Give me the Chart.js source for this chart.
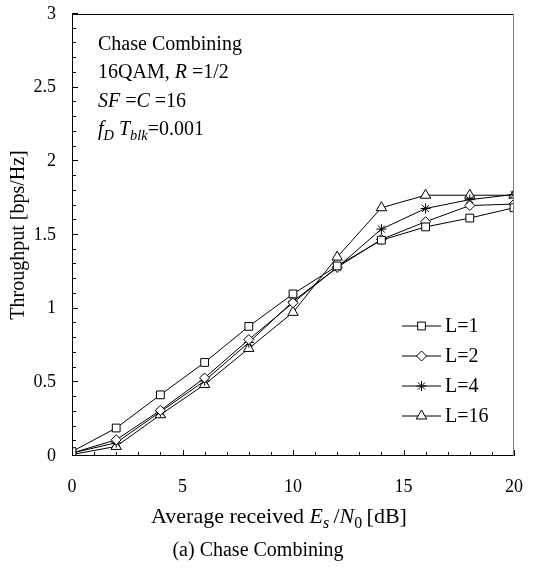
<!DOCTYPE html>
<html>
<head>
<meta charset="utf-8">
<script src="https://cdn.jsdelivr.net/npm/chart.js@4.4.1/dist/chart.umd.min.js"></script>
<style>
  html, body { margin: 0; padding: 0; background: #fff; }
  canvas { display: block; }
</style>
</head>
<body>
<canvas id="myChart" width="533" height="572"></canvas>
<script>
// valores
const snr = [0, 2, 4, 6, 8, 10, 12, 14, 16, 18, 20];
const l1 = [0.03, 0.19, 0.415, 0.635, 0.88, 1.10, 1.29, 1.465, 1.555, 1.615, 1.685];
const l2 = [0.02, 0.11, 0.31, 0.53, 0.79, 1.04, 1.28, 1.47, 1.59, 1.70, 1.71];
const l4 = [0.02, 0.09, 0.30, 0.51, 0.77, 1.05, 1.28, 1.54, 1.68, 1.74, 1.775];
const l16 = [0.01, 0.065, 0.28, 0.485, 0.73, 0.975, 1.35, 1.685, 1.77, 1.77, 1.77];
const seriesNames = ["L=1", "L=2", "L=4", "L=16"];
const markers = ["rect", "rectRot", "star", "triangle"];
const markerSizes = [5.5, 5, 5, 6];

const SERIF = '"Liberation Serif", "Times New Roman", serif';

// texto com italico / subscrito
function richText(ctx, parts, x, y, size, align) {
  let total = 0;
  const widths = parts.map((p) => {
    const s = p[2] ? size * 0.72 : size;
    ctx.font = (p[1] ? "italic " : "") + s + "px " + SERIF;
    const w = ctx.measureText(p[0]).width;
    total += w;
    return w;
  });
  let cx = align === "center" ? x - total / 2 : x;
  parts.forEach((p, i) => {
    const s = p[2] ? size * 0.72 : size;
    ctx.font = (p[1] ? "italic " : "") + s + "px " + SERIF;
    ctx.fillText(p[0], cx, p[2] ? y + size * 0.22 : y);
    cx += widths[i];
  });
}

const notes = [
  [["Chase Combining"]],
  [["16QAM, "], ["R", true], [" =1/2"]],
  [["SF", true], [" ="], ["C", true], [" =16"]],
  [["f", true], ["D", true, true], [" "], ["T", true], ["blk", true, true], ["=0.001"]],
];

const framePlugin = {
  id: "frame",
  afterDraw(chart) {
    const ctx = chart.ctx;
    const a = chart.chartArea;
    const xs = chart.scales.x;
    const ys = chart.scales.y;
    ctx.save();
    ctx.strokeStyle = "#000";
    ctx.lineWidth = 1;
    // caixa
    ctx.beginPath();
    ctx.moveTo(a.left + 0.5, a.top + 0.5);
    ctx.lineTo(a.right - 0.5, a.top + 0.5);
    ctx.moveTo(a.left + 0.5, a.top);
    ctx.lineTo(a.left + 0.5, a.bottom - 0.5);
    ctx.lineTo(a.right, a.bottom - 0.5);
    ctx.stroke();
    ctx.strokeStyle = "#808080";
    ctx.beginPath();
    ctx.moveTo(a.right - 0.5, a.top);
    ctx.lineTo(a.right - 0.5, a.bottom);
    ctx.stroke();
    // marcas para dentro
    ctx.strokeStyle = "#000";
    ctx.beginPath();
    for (let i = 0; i <= 30; i++) {
      const py = Math.round(ys.getPixelForValue(i / 10)) - 0.5;
      const len = i % 5 === 0 ? 6 : 4;
      ctx.moveTo(a.left, py);
      ctx.lineTo(a.left + len, py);
    }
    for (let i = 0; i <= 20; i++) {
      const px = Math.round(xs.getPixelForValue(i)) + 0.5;
      const len = i % 5 === 0 ? 6 : 4;
      ctx.moveTo(px, a.bottom);
      ctx.lineTo(px, a.bottom - len);
    }
    ctx.stroke();

    // anotacoes
    ctx.fillStyle = "#000";
    ctx.textBaseline = "alphabetic";
    ctx.textAlign = "left";
    notes.forEach((line, i) => {
      richText(ctx, line, a.left + 26, 50 + i * 28.4, 20, "left");
    });

    // titulo do eixo x e legenda da figura
    richText(ctx, [["Average received "], ["E", true], ["s", true, true], ["\u2009/"], ["N", true], ["0", false, true], ["\u2009[dB]"]], 279, 523, 22, "center");
    richText(ctx, [["(a) Chase Combining"]], 258, 556, 20, "center");

    // legenda
    chart.data.datasets.forEach((ds, i) => {
      const y = a.bottom - 130 + i * 30;
      const x0 = a.right - 112;
      ctx.strokeStyle = "#000";
      ctx.beginPath();
      ctx.moveTo(x0, y);
      ctx.lineTo(x0 + 39, y);
      ctx.stroke();
      ctx.fillStyle = "#fff";
      Chart.helpers.drawPoint(ctx, {
        pointStyle: ds.pointStyle,
        radius: ds.pointRadius,
        borderWidth: 1,
      }, x0 + 19.5, y);
      ctx.fillStyle = "#000";
      ctx.font = "20px " + SERIF;
      ctx.textBaseline = "middle";
      ctx.fillText(ds.label, x0 + 43, y + 1);
      ctx.textBaseline = "alphabetic";
    });
    ctx.restore();
  },
};

const allSeries = [l1, l2, l4, l16];

const ctx = document.getElementById("myChart");

new Chart(ctx, {
  type: "line",
  data: {
    datasets: allSeries.map((vals, i) => ({
      label: seriesNames[i],
      data: snr.map((x, j) => ({ x: x, y: vals[j] })),
      borderColor: "#000",
      borderWidth: 1,
      backgroundColor: "#fff",
      pointStyle: markers[i],
      pointRadius: markerSizes[i],
      pointBorderColor: "#000",
      pointBackgroundColor: "#fff",
      pointBorderWidth: 1,
      tension: 0,
    })),
  },
  options: {
    responsive: false,
    animation: false,
    devicePixelRatio: 1,
    layout: { padding: { top: 14, right: 19, left: 0, bottom: 0 } },
    plugins: {
      legend: { display: false },
      tooltip: { enabled: false },
    },
    scales: {
      x: {
        type: "linear",
        min: 0,
        max: 20,
        grid: { display: false, drawTicks: false },
        border: { display: false },
        ticks: {
          stepSize: 5,
          color: "#000",
          font: { family: SERIF, size: 18 },
          padding: 20,
        },
        afterFit(scale) {
          scale.height = 116;
          scale.paddingLeft = 0;
          scale.paddingRight = 0;
        },
      },
      y: {
        min: 0,
        max: 3,
        grid: { display: false, drawTicks: false },
        border: { display: false },
        ticks: {
          stepSize: 0.5,
          color: "#000",
          font: { family: SERIF, size: 18 },
          padding: 16,
          callback: (v) => String(Math.round(v * 10) / 10),
        },
        title: {
          display: true,
          text: "Throughput [bps/Hz]",
          color: "#000",
          font: { family: SERIF, size: 20 },
          padding: { top: 7, bottom: 0 },
        },
        afterFit(scale) {
          scale.width = 72;
          scale.paddingTop = 0;
          scale.paddingBottom = 0;
        },
      },
    },
  },
  plugins: [framePlugin],
});
</script>
</body>
</html>
